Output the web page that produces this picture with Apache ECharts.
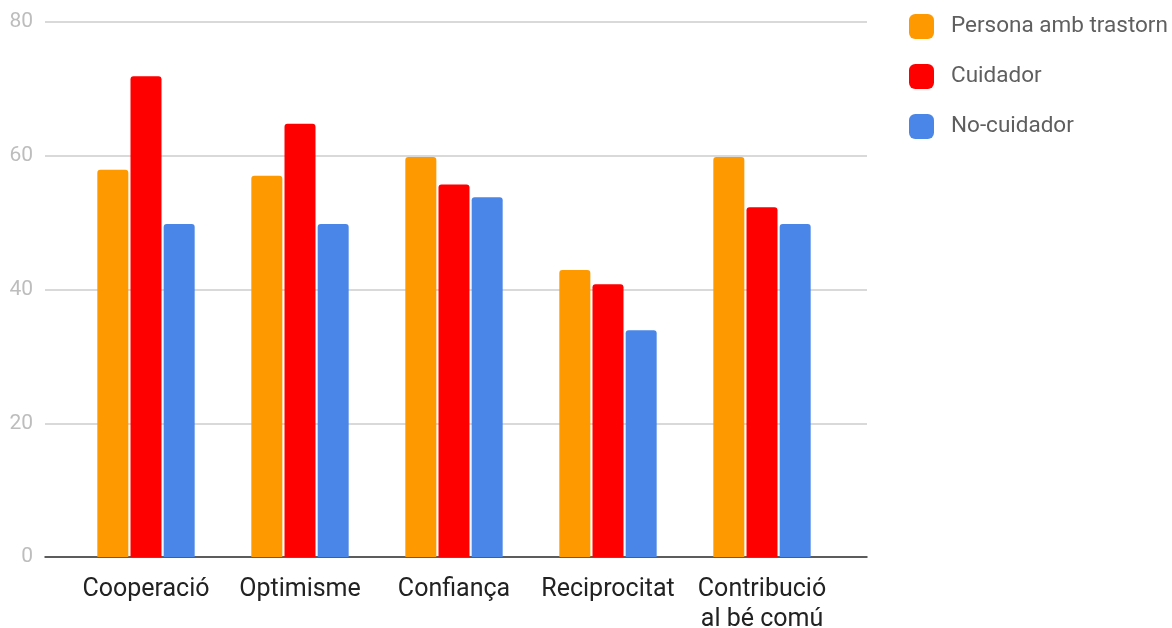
<!DOCTYPE html>
<html>
<head>
<meta charset="utf-8">
<style>
  html, body { margin: 0; padding: 0; background: #fff; }
  #chart { width: 1172px; height: 628px; }
</style>
<script src="https://cdn.jsdelivr.net/npm/echarts@6/dist/echarts.min.js"></script>
</head>
<body>
<div id="chart"></div>
<script>
// Categories and series values
const categories = ['Cooperació', 'Optimisme', 'Confiança', 'Reciprocitat', 'Contribució\nal bé comú'];
const seriesNames = ['Persona amb trastorn', 'Cuidador', 'No-cuidador'];
const personaValues = [57.9, 57.0, 59.8, 42.9, 59.8];
const cuidadorValues = [71.9, 64.8, 55.7, 40.8, 52.3];
const noCuidadorValues = [49.8, 49.8, 53.8, 33.9, 49.8];
const yTicks = { min: 0, max: 80, interval: 20 };

const colors = ['#FF9900', '#FF0000', '#4A86E8'];
const FONT = 'Roboto, "Noto Sans", sans-serif';

const chart = echarts.init(document.getElementById('chart'), null, { renderer: 'canvas' });

const barStyle = (c) => ({ color: c, borderRadius: [3, 3, 0, 0] });

chart.setOption({
  animation: false,
  textStyle: { fontFamily: FONT },
  legend: {
    orient: 'vertical',
    left: 909,
    top: 14,
    padding: 0,
    itemWidth: 25,
    itemHeight: 25,
    itemGap: 25,
    icon: 'roundRect',
    data: seriesNames,
    textStyle: { fontFamily: FONT, fontSize: 22.5, color: '#5f5f5f', padding: [0, 0, 0, 12] }
  },
  grid: [
    // full-width grid carrying the gridlines, y labels and baseline
    { left: 45, right: 305, top: 22, bottom: 71, outerBoundsMode: 'none', containLabel: false },
    // inner grid holding the category bands and bars
    { left: 69, right: 333, top: 22, bottom: 71, outerBoundsMode: 'none', containLabel: false }
  ],
  xAxis: [
    {
      gridIndex: 0, type: 'value', min: 0, max: 1,
      axisLine: { show: true, onZero: false, lineStyle: { color: '#333', width: 1.5 } },
      axisTick: { show: false }, axisLabel: { show: false }, splitLine: { show: false }
    },
    {
      gridIndex: 1, type: 'category', data: categories,
      axisLine: { show: false }, axisTick: { show: false },
      axisLabel: { color: '#222', fontSize: 25, fontFamily: FONT, margin: 18, lineHeight: 30, interval: 0 }
    }
  ],
  yAxis: [
    {
      gridIndex: 0, type: 'value', min: yTicks.min, max: yTicks.max, interval: yTicks.interval,
      axisLine: { show: false }, axisTick: { show: false },
      axisLabel: { color: '#bdbdbd', fontSize: 21, fontFamily: FONT, margin: 12 },
      splitLine: { lineStyle: { color: '#cccccc', width: 1.5 } }
    },
    {
      gridIndex: 1, type: 'value', min: yTicks.min, max: yTicks.max, interval: yTicks.interval,
      show: false, splitLine: { show: false }
    }
  ],
  series: [
    { name: seriesNames[0], type: 'bar', xAxisIndex: 1, yAxisIndex: 1, data: personaValues,
      barWidth: 31, barGap: '7%', itemStyle: barStyle(colors[0]) },
    { name: seriesNames[1], type: 'bar', xAxisIndex: 1, yAxisIndex: 1, data: cuidadorValues,
      barWidth: 31, barGap: '7%', itemStyle: barStyle(colors[1]) },
    { name: seriesNames[2], type: 'bar', xAxisIndex: 1, yAxisIndex: 1, data: noCuidadorValues,
      barWidth: 31, barGap: '7%', itemStyle: barStyle(colors[2]) }
  ]
});
</script>
</body>
</html>
